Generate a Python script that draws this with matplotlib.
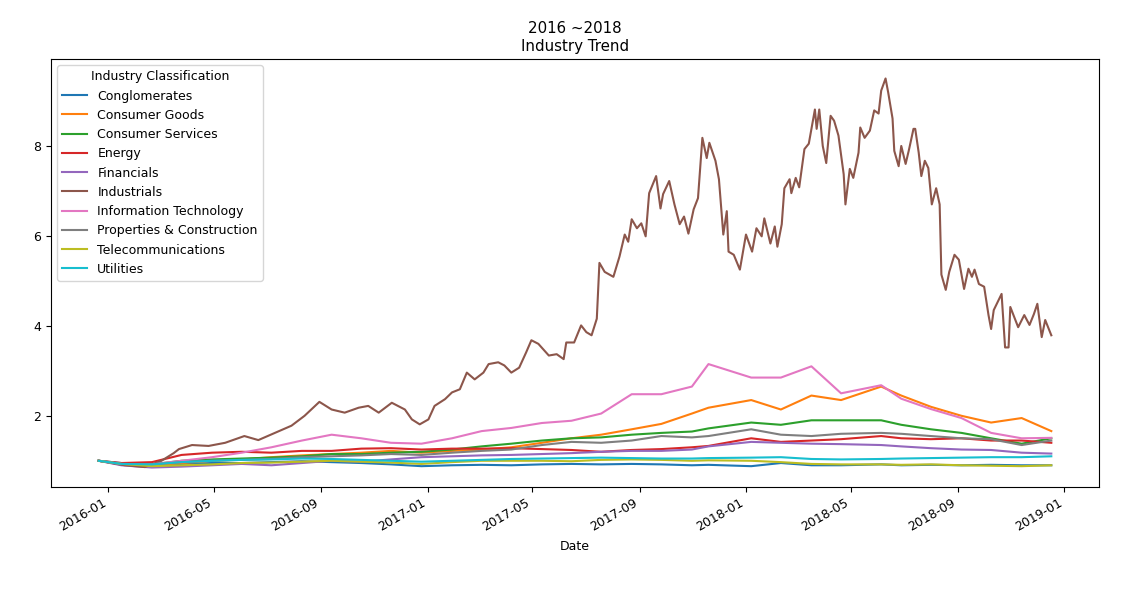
import pandas as pd
import matplotlib
matplotlib.use('Agg')
import matplotlib.pyplot as plt
import matplotlib.dates as mdates

plt.rcParams['font.size'] = 9

# Common sampling dates for the nine smaller series
dates = ['2015-12-21', '2016-01-16', '2016-02-20', '2016-03-25', '2016-04-29', '2016-06-02',
         '2016-07-06', '2016-08-10', '2016-09-13', '2016-10-17', '2016-11-20', '2016-12-25',
         '2017-01-29', '2017-03-04', '2017-04-07', '2017-05-12', '2017-06-15', '2017-07-19',
         '2017-08-23', '2017-09-26', '2017-10-31', '2017-11-19', '2018-01-07', '2018-02-10',
         '2018-03-17', '2018-04-20', '2018-06-05', '2018-06-28', '2018-08-01', '2018-09-05',
         '2018-10-09', '2018-11-13', '2018-12-17']

conglomerates = [1.00, 0.95, 0.90, 0.93, 0.95, 0.95, 0.97, 0.99, 0.97, 0.95, 0.92, 0.88,
                 0.90, 0.91, 0.90, 0.92, 0.93, 0.92, 0.93, 0.92, 0.90, 0.91, 0.88, 0.95,
                 0.90, 0.90, 0.92, 0.90, 0.91, 0.90, 0.91, 0.90, 0.90]
consumer_goods = [1.00, 0.92, 0.90, 0.95, 1.00, 1.03, 1.08, 1.12, 1.15, 1.18, 1.22, 1.18,
                  1.22, 1.25, 1.30, 1.40, 1.50, 1.58, 1.70, 1.82, 2.05, 2.18, 2.35, 2.14,
                  2.45, 2.35, 2.65, 2.45, 2.20, 2.00, 1.85, 1.95, 1.66]
consumer_services = [1.00, 0.93, 0.92, 1.00, 1.03, 1.05, 1.07, 1.10, 1.15, 1.15, 1.18, 1.20,
                     1.25, 1.32, 1.38, 1.45, 1.50, 1.52, 1.58, 1.62, 1.65, 1.72, 1.85, 1.80,
                     1.90, 1.90, 1.90, 1.80, 1.70, 1.62, 1.50, 1.38, 1.50]
energy = [1.00, 0.95, 0.97, 1.13, 1.18, 1.20, 1.18, 1.22, 1.22, 1.27, 1.28, 1.25,
          1.27, 1.27, 1.28, 1.26, 1.24, 1.20, 1.24, 1.26, 1.30, 1.33, 1.50, 1.42,
          1.45, 1.48, 1.55, 1.50, 1.48, 1.50, 1.45, 1.45, 1.40]
financials = [1.00, 0.90, 0.85, 0.87, 0.90, 0.93, 0.90, 0.95, 1.00, 0.98, 1.03, 1.08,
              1.10, 1.12, 1.13, 1.15, 1.17, 1.20, 1.22, 1.22, 1.25, 1.32, 1.42, 1.40,
              1.38, 1.37, 1.35, 1.32, 1.28, 1.25, 1.24, 1.18, 1.16]
info_tech = [1.00, 0.93, 0.92, 1.00, 1.08, 1.18, 1.30, 1.45, 1.58, 1.50, 1.40, 1.38,
             1.50, 1.66, 1.73, 1.84, 1.89, 2.05, 2.48, 2.48, 2.65, 3.15, 2.85, 2.85,
             3.10, 2.50, 2.68, 2.38, 2.15, 1.95, 1.62, 1.50, 1.51]
properties = [1.00, 0.93, 0.92, 0.97, 1.00, 1.02, 1.04, 1.08, 1.10, 1.12, 1.15, 1.13,
              1.18, 1.22, 1.25, 1.35, 1.42, 1.40, 1.45, 1.55, 1.52, 1.55, 1.70, 1.58,
              1.55, 1.60, 1.62, 1.60, 1.55, 1.50, 1.48, 1.35, 1.45]
telecom = [1.00, 0.93, 0.88, 0.90, 0.92, 0.95, 0.96, 0.98, 1.00, 0.98, 0.96, 0.93,
           0.97, 1.00, 1.00, 1.00, 0.99, 1.02, 1.03, 1.02, 1.00, 1.01, 1.00, 0.97,
           0.93, 0.92, 0.92, 0.91, 0.92, 0.90, 0.89, 0.88, 0.90]
utilities = [1.00, 0.93, 0.92, 0.97, 1.00, 1.02, 1.03, 1.05, 1.04, 1.02, 1.00, 0.98,
             1.00, 1.02, 1.04, 1.05, 1.06, 1.07, 1.06, 1.05, 1.05, 1.06, 1.07, 1.08,
             1.04, 1.03, 1.04, 1.05, 1.06, 1.07, 1.08, 1.08, 1.10]

# Industrials moves a lot, so it gets its own denser dates
ind_dates = ['2015-12-21', '2016-01-20', '2016-02-12', '2016-03-02', '2016-03-16', '2016-03-22', '2016-04-06', '2016-04-25', '2016-05-14', '2016-06-05',
             '2016-06-21', '2016-07-10', '2016-07-29', '2016-08-13', '2016-08-30', '2016-09-13', '2016-09-28', '2016-10-14', '2016-10-25', '2016-11-06',
             '2016-11-21', '2016-12-06', '2016-12-14', '2016-12-23', '2017-01-02', '2017-01-09', '2017-01-21', '2017-01-29', '2017-02-07', '2017-02-15',
             '2017-02-24', '2017-03-06', '2017-03-12', '2017-03-23', '2017-03-30', '2017-04-07', '2017-04-16', '2017-04-24', '2017-04-30', '2017-05-08',
             '2017-05-20', '2017-05-29', '2017-06-06', '2017-06-09', '2017-06-18', '2017-06-26', '2017-07-02', '2017-07-08', '2017-07-14', '2017-07-17',
             '2017-07-23', '2017-08-02', '2017-08-09', '2017-08-15', '2017-08-19', '2017-08-23', '2017-08-29', '2017-09-03', '2017-09-08', '2017-09-12',
             '2017-09-20', '2017-09-25', '2017-09-28', '2017-10-05', '2017-10-11', '2017-10-17', '2017-10-22', '2017-10-27', '2017-11-02', '2017-11-07',
             '2017-11-12', '2017-11-17', '2017-11-20', '2017-11-27', '2017-12-01', '2017-12-06', '2017-12-10', '2017-12-12', '2017-12-18', '2017-12-25',
             '2018-01-01', '2018-01-08', '2018-01-13', '2018-01-19', '2018-01-22', '2018-01-29', '2018-02-03', '2018-02-06', '2018-02-11', '2018-02-14',
             '2018-02-20', '2018-02-22', '2018-02-27', '2018-03-03', '2018-03-09', '2018-03-14', '2018-03-21', '2018-03-23', '2018-03-26', '2018-03-30',
             '2018-04-03', '2018-04-08', '2018-04-12', '2018-04-17', '2018-04-23', '2018-04-25', '2018-04-30', '2018-05-04', '2018-05-10', '2018-05-12',
             '2018-05-17', '2018-05-23', '2018-05-28', '2018-06-02', '2018-06-05', '2018-06-10', '2018-06-13', '2018-06-18', '2018-06-20', '2018-06-25',
             '2018-06-28', '2018-07-03', '2018-07-07', '2018-07-12', '2018-07-14', '2018-07-18', '2018-07-21', '2018-07-25', '2018-07-29', '2018-08-02',
             '2018-08-07', '2018-08-11', '2018-08-13', '2018-08-18', '2018-08-22', '2018-08-28', '2018-09-02', '2018-09-05', '2018-09-08', '2018-09-13',
             '2018-09-17', '2018-09-20', '2018-09-25', '2018-10-01', '2018-10-06', '2018-10-09', '2018-10-12', '2018-10-21', '2018-10-25', '2018-10-29',
             '2018-10-31', '2018-11-09', '2018-11-16', '2018-11-22', '2018-11-27', '2018-12-01', '2018-12-06', '2018-12-10', '2018-12-17']
industrials = [1.00, 0.90, 0.86, 1.00, 1.17, 1.26, 1.35, 1.33, 1.40, 1.55,
               1.46, 1.62, 1.78, 2.00, 2.31, 2.14, 2.07, 2.18, 2.22, 2.07,
               2.29, 2.14, 1.92, 1.81, 1.92, 2.22, 2.37, 2.52, 2.59, 2.96,
               2.81, 2.96, 3.15, 3.19, 3.12, 2.96, 3.07, 3.41, 3.68, 3.60,
               3.34, 3.37, 3.26, 3.63, 3.63, 4.01, 3.86, 3.79, 4.16, 5.40,
               5.20, 5.09, 5.54, 6.03, 5.87, 6.37, 6.17, 6.28, 5.99, 6.95,
               7.33, 6.61, 6.93, 7.22, 6.70, 6.26, 6.43, 6.05, 6.59, 6.84,
               8.18, 7.73, 8.07, 7.67, 7.26, 6.03, 6.55, 5.65, 5.58, 5.25,
               6.03, 5.65, 6.17, 5.99, 6.39, 5.83, 6.21, 5.76, 6.26, 7.06,
               7.26, 6.95, 7.29, 7.08, 7.93, 8.05, 8.81, 8.38, 8.81, 8.00,
               7.62, 8.67, 8.56, 8.23, 7.37, 6.70, 7.49, 7.29, 7.85, 8.41,
               8.18, 8.34, 8.79, 8.72, 9.23, 9.50, 9.19, 8.61, 7.89, 7.55,
               8.00, 7.60, 7.93, 8.38, 8.38, 7.85, 7.33, 7.67, 7.51, 6.70,
               7.06, 6.70, 5.14, 4.80, 5.20, 5.58, 5.47, 5.14, 4.82, 5.27,
               5.09, 5.25, 4.93, 4.87, 4.24, 3.93, 4.35, 4.71, 3.52, 3.52,
               4.42, 3.97, 4.24, 4.02, 4.26, 4.49, 3.75, 4.13, 3.79]

names = ['Conglomerates', 'Consumer Goods', 'Consumer Services', 'Energy', 'Financials',
         'Industrials', 'Information Technology', 'Properties & Construction',
         'Telecommunications', 'Utilities']

x = pd.to_datetime(dates)
x_ind = pd.to_datetime(ind_dates)
series = [(x, conglomerates), (x, consumer_goods), (x, consumer_services), (x, energy),
          (x, financials), (x_ind, industrials), (x, info_tech), (x, properties),
          (x, telecom), (x, utilities)]

fig = plt.figure(figsize=(11.42, 5.92), dpi=100)
ax = fig.add_axes([0.0447, 0.1774, 0.9176, 0.7229])

for name, (xx, yy) in zip(names, series):
    ax.plot(xx, yy, label=name)

ax.set_title('2016 ~2018\nIndustry Trend')
ax.set_xlabel('Date')
ax.legend(title='Industry Classification', loc='upper left')

ax.xaxis.set_major_locator(mdates.MonthLocator(bymonth=[1, 5, 9]))
ax.xaxis.set_major_formatter(mdates.DateFormatter('%Y-%m'))
plt.setp(ax.get_xticklabels(), rotation=30, ha='right')

fig.savefig('out.png', dpi=100)
